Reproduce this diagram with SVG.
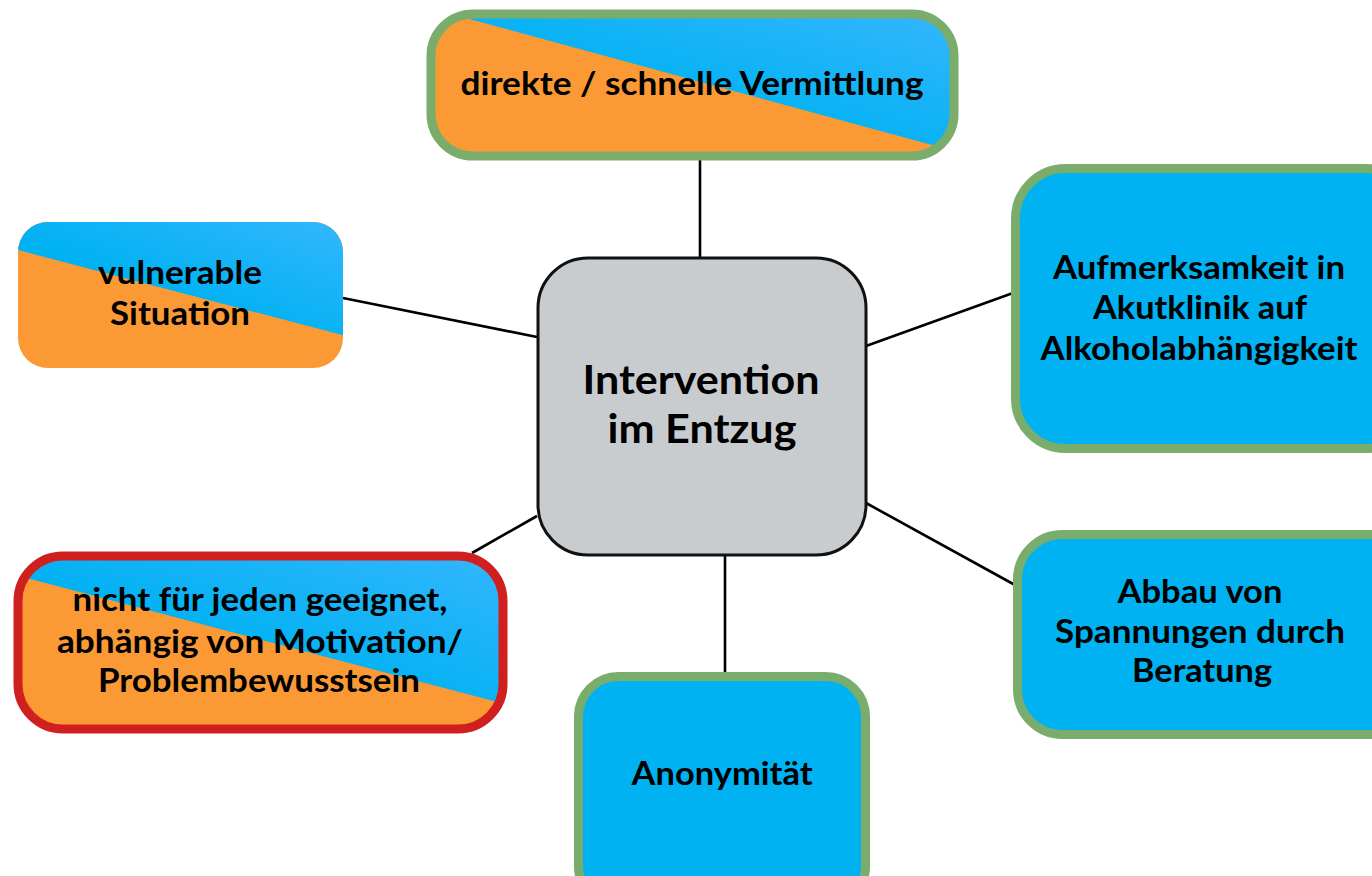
<svg xmlns="http://www.w3.org/2000/svg" width="1372" height="876" viewBox="0 0 1372 876">
<style>
.t{font-family:Lato,"Open Sans","Liberation Sans",sans-serif;font-weight:bold;fill:#000;text-anchor:middle;}
.s{font-size:32px;}
.c{font-size:41px;}
.conn{stroke:#000;stroke-width:2.6;fill:none;}
.green{stroke:#7aad6c;stroke-width:9;}
.red{stroke:#d01f1f;stroke-width:9;}
.blue{fill:#00b2f2;}
.orange{fill:#fb9a35;}
</style>
<defs>
<linearGradient id="bg" x1="1" y1="0" x2="0" y2="1">
<stop offset="0" stop-color="#3ab6ff"/>
<stop offset="0.6" stop-color="#00b2f2"/>
</linearGradient>
<clipPath id="cTop"><rect x="431" y="14" width="523" height="142" rx="42"/></clipPath>
<clipPath id="cVul"><rect x="18" y="222" width="325" height="146" rx="30"/></clipPath>
<clipPath id="cRed"><rect x="18" y="556" width="485" height="173" rx="45"/></clipPath>
</defs>
<g id="connectors">
<line class="conn" x1="700" y1="160" x2="700" y2="257"/>
<line class="conn" x1="343" y1="298" x2="537" y2="337"/>
<line class="conn" x1="472" y1="553" x2="537" y2="516"/>
<line class="conn" x1="725" y1="555" x2="725" y2="672"/>
<line class="conn" x1="866" y1="346" x2="1013" y2="293"/>
<line class="conn" x1="866" y1="503" x2="1015" y2="585"/>
</g>
<g id="center">
<rect x="538" y="258" width="328" height="297" rx="50" fill="#c9cccf" stroke="#111" stroke-width="3"/>
<text class="t c" x="701" y="394" textLength="237" lengthAdjust="spacingAndGlyphs">Intervention</text>
<text class="t c" x="702" y="443" textLength="189" lengthAdjust="spacingAndGlyphs">im Entzug</text>
</g>
<g id="top">
<g clip-path="url(#cTop)">
<rect class="orange" x="425" y="8" width="535" height="154"/>
<polygon fill="url(#bg)" points="420,5.6 965,154 965,0 420,0"/>
</g>
<rect class="green" x="431" y="14" width="523" height="142" rx="42" fill="none"/>
<text class="t s" x="692" y="95" textLength="463" lengthAdjust="spacingAndGlyphs">direkte / schnelle Vermittlung</text>
</g>
<g id="vulnerable">
<g clip-path="url(#cVul)">
<rect class="orange" x="18" y="222" width="325" height="146"/>
<polygon fill="url(#bg)" points="10,248 350,337 350,210 10,210"/>
</g>
<text class="t s" x="180" y="284" textLength="164" lengthAdjust="spacingAndGlyphs">vulnerable</text>
<text class="t s" x="180" y="325" textLength="140" lengthAdjust="spacingAndGlyphs">Situation</text>
</g>
<g id="geeignet">
<g clip-path="url(#cRed)">
<rect class="orange" x="18" y="556" width="485" height="173"/>
<polygon fill="url(#bg)" points="10,573.6 510,705.4 510,540 10,540"/>
</g>
<rect class="red" x="18" y="556" width="485" height="173" rx="45" fill="none"/>
<text class="t s" x="260" y="611" textLength="375" lengthAdjust="spacingAndGlyphs">nicht für jeden geeignet,</text>
<text class="t s" x="260" y="653" textLength="406" lengthAdjust="spacingAndGlyphs">abhängig von Motivation/</text>
<text class="t s" x="259" y="692" textLength="322" lengthAdjust="spacingAndGlyphs">Problembewusstsein</text>
</g>
<g id="anonymitaet">
<rect class="green blue" x="578.5" y="676.5" width="287" height="230" rx="40"/>
<text class="t s" x="722" y="785" textLength="181" lengthAdjust="spacingAndGlyphs">Anonymität</text>
</g>
<g id="aufmerksamkeit">
<rect class="green blue" x="1015.5" y="168.5" width="400" height="280" rx="50"/>
<text class="t s" x="1199" y="279" textLength="292" lengthAdjust="spacingAndGlyphs">Aufmerksamkeit in</text>
<text class="t s" x="1200" y="319" textLength="214" lengthAdjust="spacingAndGlyphs">Akutklinik auf</text>
<text class="t s" x="1199" y="360" textLength="317" lengthAdjust="spacingAndGlyphs">Alkoholabhängigkeit</text>
</g>
<g id="abbau">
<rect class="green blue" x="1017.5" y="534.5" width="400" height="200" rx="45"/>
<text class="t s" x="1200" y="603" textLength="165" lengthAdjust="spacingAndGlyphs">Abbau von</text>
<text class="t s" x="1200" y="643" textLength="290" lengthAdjust="spacingAndGlyphs">Spannungen durch</text>
<text class="t s" x="1202" y="682" textLength="140" lengthAdjust="spacingAndGlyphs">Beratung</text>
</g>
</svg>
